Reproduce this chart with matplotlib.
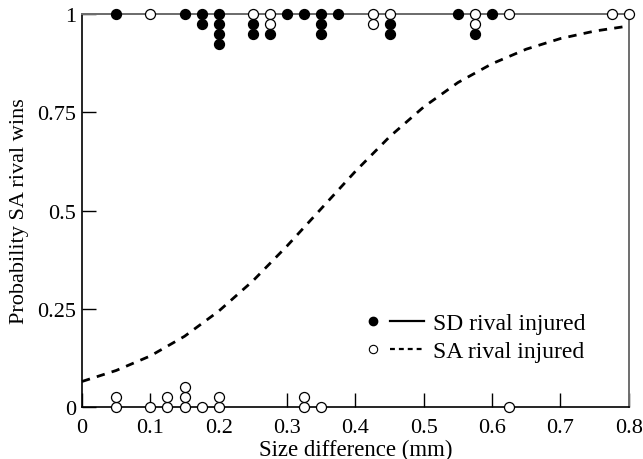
import matplotlib
matplotlib.use("Agg")
import matplotlib.pyplot as plt
from matplotlib.lines import Line2D
from matplotlib.legend_handler import HandlerTuple
from collections import Counter

plt.rcParams["font.family"] = ["Liberation Serif", "DejaVu Serif"]

# size difference (mm) of each contest, by outcome
# SD rival injured, SA rival won (filled, all at top)
sd_injured_win = [0.05, 0.15, 0.175, 0.175, 0.2, 0.2, 0.2, 0.2, 0.25, 0.25,
                  0.275, 0.3, 0.325, 0.35, 0.35, 0.35, 0.375, 0.45, 0.45,
                  0.55, 0.575, 0.6]
# SA rival injured, SA rival won (open, top)
sa_injured_win = [0.1, 0.25, 0.275, 0.275, 0.425, 0.425, 0.45, 0.575, 0.575,
                  0.625, 0.775, 0.8]
# SA rival injured, SA rival lost (open, bottom)
sa_injured_loss = [0.05, 0.05, 0.1, 0.125, 0.125, 0.15, 0.15, 0.15, 0.175,
                   0.2, 0.2, 0.325, 0.325, 0.35, 0.625]

# fitted curves
fit_x = [0.0, 0.05, 0.1, 0.15, 0.2, 0.25, 0.3, 0.35, 0.4, 0.45, 0.5, 0.55,
         0.6, 0.65, 0.7, 0.75, 0.8]
sa_fit_y = [0.065, 0.093, 0.130, 0.180, 0.244, 0.321, 0.410, 0.505, 0.600,
            0.688, 0.764, 0.826, 0.874, 0.911, 0.938, 0.957, 0.970]
sd_fit_y = [1.0] * len(fit_x)

xticks = [0, 0.1, 0.2, 0.3, 0.4, 0.5, 0.6, 0.7, 0.8]
xticklabels = ["0", "0.1", "0.2", "0.3", "0.4", "0.5", "0.6", "0.7", "0.8"]
yticks = [0, 0.25, 0.5, 0.75, 1]
yticklabels = ["0", "0.25", "0.5", "0.75", "1"]

STEP = 0.025
FS = 16

fig = plt.figure(figsize=(6.43, 4.6), dpi=100)
ax = fig.add_axes([0.1275, 0.113, 0.8505, 0.854])

# fit lines
ax.plot(fit_x, sd_fit_y, color="#6e6e6e", lw=1.4, solid_capstyle="butt",
        clip_on=False, zorder=2)
ax.plot(fit_x, sa_fit_y, color="black", lw=2.0, ls=(0, (3.0, 2.6)),
        clip_on=False, zorder=2)

# stacked dots: at the top open circles sit above filled ones
top_x, top_y, top_open = [], [], []
count = Counter()
for x in sa_injured_win:
    top_x.append(x)
    top_y.append(1 - count[x] * STEP)
    top_open.append(True)
    count[x] += 1
for x in sd_injured_win:
    top_x.append(x)
    top_y.append(1 - count[x] * STEP)
    top_open.append(False)
    count[x] += 1

bot_x, bot_y = [], []
count = Counter()
for x in sa_injured_loss:
    bot_x.append(x)
    bot_y.append(count[x] * STEP)
    count[x] += 1

ms = 7.2
for x, y, is_open in zip(top_x, top_y, top_open):
    ax.plot(x, y, "o", ms=ms, mew=0.9, mec="black",
            mfc="white" if is_open else "black", clip_on=False, zorder=4)
ax.plot(bot_x, bot_y, "o", ms=ms, mew=0.9, mec="black", mfc="white",
        ls="none", clip_on=False, zorder=4)

ax.set_xlim(0, 0.8)
ax.set_ylim(0, 1)
ax.set_xticks(xticks)
ax.set_xticklabels(xticklabels)
ax.set_yticks(yticks)
ax.set_yticklabels(yticklabels)
ax.tick_params(direction="in", length=10, width=1.0, labelsize=FS, pad=4)
ax.tick_params(axis="x", pad=8)

for side in ["left", "bottom"]:
    ax.spines[side].set_linewidth(1.2)
for side in ["top", "right"]:
    ax.spines[side].set_color("#6e6e6e")
    ax.spines[side].set_linewidth(1.4)

ax.set_xlabel("Size difference (mm)", fontsize=16.5, labelpad=1)
ax.set_ylabel("Probability SA rival wins", fontsize=FS, labelpad=6)

h_sd = (Line2D([], [], marker="o", ls="none", ms=6, mfc="black", mec="black"),
        Line2D([], [], color="black", lw=1.6))
h_sa = (Line2D([], [], marker="o", ls="none", ms=6, mfc="white", mec="black", mew=0.8),
        Line2D([], [], color="black", lw=1.6, ls=(0, (2.2, 1.8))))
ax.legend([h_sd, h_sa], ["SD rival injured", "SA rival injured"],
          handler_map={tuple: HandlerTuple(ndivide=None, pad=0.0)},
          loc="upper left", bbox_to_anchor=(0.501, 0.240), frameon=False,
          borderpad=0, borderaxespad=0, fontsize=17, handlelength=2.9,
          handletextpad=0.38, labelspacing=0.28)

fig.savefig("out.png", dpi=100)
